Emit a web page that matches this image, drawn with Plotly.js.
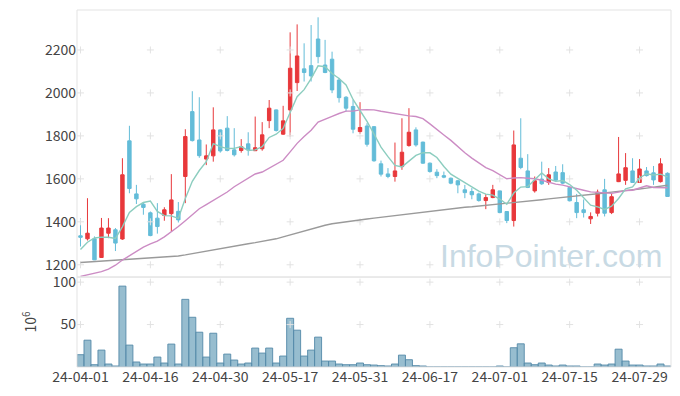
<!DOCTYPE html>
<html>
<head>
<meta charset="utf-8">
<script src="https://cdn.plot.ly/plotly-3.0.1.min.js"></script>
<style>html,body{margin:0;padding:0;background:#fff;}#chart{width:680px;height:396px;}</style>
</head>
<body>
<div id="chart"></div>
<script>
const dates = ["24-04-01","24-04-02","24-04-03","24-04-04","24-04-05","24-04-08","24-04-09","24-04-11","24-04-12","24-04-15",
"24-04-16","24-04-17","24-04-18","24-04-19","24-04-22","24-04-23","24-04-24","24-04-25","24-04-26","24-04-29",
"24-04-30","24-05-02","24-05-03","24-05-07","24-05-08","24-05-09","24-05-10","24-05-13","24-05-14","24-05-16",
"24-05-17","24-05-20","24-05-21","24-05-22","24-05-23","24-05-24","24-05-27","24-05-28","24-05-29","24-05-30",
"24-05-31","24-06-03","24-06-04","24-06-05","24-06-07","24-06-10","24-06-11","24-06-12","24-06-13","24-06-14",
"24-06-17","24-06-18","24-06-19","24-06-20","24-06-21","24-06-24","24-06-25","24-06-26","24-06-27","24-06-28",
"24-07-01","24-07-02","24-07-03","24-07-04","24-07-05","24-07-08","24-07-09","24-07-10","24-07-11","24-07-12",
"24-07-15","24-07-16","24-07-17","24-07-18","24-07-19","24-07-22","24-07-23","24-07-24","24-07-25","24-07-26",
"24-07-29","24-07-30","24-07-31","24-08-01","24-08-02"];

const open = [1335,1321,1321,1234,1347,1363,1320,1777,1530,1482,
1442,1417,1430,1438,1449,1611,1913,1781,1692,1707,
1828,1836,1735,1732,1763,1731,1740,1871,1921,1808,
1921,2048,2112,2127,2251,2130,2157,2060,1980,1937,
1820,1846,1843,1670,1623,1611,1657,1755,1828,1771,
1673,1631,1615,1603,1591,1549,1541,1530,1499,1513,
1544,1448,1406,1696,1637,1544,1599,1583,1632,1629,
1560,1490,1456,1414,1440,1549,1443,1587,1593,1637,
1583,1637,1628,1587,1626];
const high = [1417,1510,1332,1418,1417,1371,1696,1847,1572,1490,
1448,1487,1468,1622,1492,1831,2008,1980,1760,1933,
1830,1892,1836,1785,1817,1890,1864,1967,1923,1940,
2282,2319,2231,2316,2352,2247,2192,2070,1985,1967,
1957,1859,1845,1685,1650,1769,1882,1929,1840,1773,
1676,1645,1634,1606,1595,1572,1557,1536,1529,1572,
1545,1450,1825,1882,1715,1611,1680,1650,1660,1668,
1562,1530,1504,1444,1550,1600,1532,1795,1720,1696,
1692,1655,1660,1696,1630];
const low = [1285,1313,1222,1232,1324,1264,1316,1533,1483,1433,
1333,1345,1405,1355,1397,1487,1774,1698,1664,1680,
1722,1728,1704,1722,1708,1730,1731,1836,1820,1805,
1797,2009,2053,2053,2138,2092,1999,1955,1913,1812,
1809,1750,1680,1611,1603,1587,1642,1750,1750,1670,
1629,1603,1603,1575,1533,1510,1505,1494,1459,1510,
1440,1394,1378,1645,1557,1536,1572,1572,1592,1575,
1495,1417,1420,1390,1425,1425,1436,1585,1572,1581,
1581,1611,1572,1583,1518];
const close = [1328,1347,1223,1371,1371,1301,1619,1555,1507,1467,
1336,1378,1456,1502,1409,1797,1778,1708,1707,1828,
1730,1732,1712,1750,1735,1745,1805,1929,1825,1870,
2115,2172,2095,2079,2169,2095,2014,1978,1929,1831,
1839,1761,1684,1622,1611,1637,1724,1817,1758,1673,
1634,1615,1608,1580,1572,1536,1526,1499,1513,1549,
1443,1406,1758,1653,1560,1591,1577,1619,1594,1580,
1498,1443,1443,1425,1538,1440,1517,1623,1652,1583,
1646,1615,1595,1670,1518];
// volume in millions
const volume = [14.5,31.6,2.7,19.9,3.5,1.2,95.3,25.8,5.9,3.5,
3.5,11.7,4.7,27,3.5,79.7,58.6,41,11.7,39.8,
4.7,15.2,8.2,3.5,4.7,22.3,16.4,22.3,4.7,12.9,
57.4,43.4,12.9,19.9,35.2,7,7,3.5,2.7,2.7,
4.7,2.7,2.3,1.6,1.2,3.5,14,8.6,1.6,1.2,
0,0,0,0,0,0,0,0,0,0,
1.2,0,22.7,27.3,4.7,2.7,4.7,2.3,1.2,2.3,
1.2,1.2,0,0,3.5,2.3,3.5,21,7,2.3,
2.3,1.2,1.2,3.5,1.2];
const ma5Head = [1271,1305,1325,1329];
const ma20Head = [1146,1153,1160,1168,1180,1198,1222,1243,1262,1282,1297,1310,1330,1352,1378,1405,1432,1461,1480];
const ma120 = [1211,1213,1215,1217,1219,1221,1223,1225,1227,1229,
1231,1233,1235,1238,1241,1246,1252,1259,1265,1271,
1277,1282,1288,1293,1298,1303,1308,1314,1321,1330,
1339,1348,1358,1368,1377,1384,1391,1396,1400,1405,
1409,1413,1417,1421,1425,1429,1433,1437,1441,1445,
1450,1455,1459,1462,1465,1468,1470,1473,1476,1480,
1484,1487,1490,1494,1497,1500,1503,1507,1510,1513,
1517,1520,1524,1527,1531,1534,1538,1541,1545,1549,
1553,1557,1561,1566,1570];
const xTickIdx = [0,10,20,30,40,50,60,70,80];
const priceTicks = [1200,1400,1600,1800,2000,2200];
const volTicks = [50,100];

function movingAvg(arr, n, head){
  return arr.map((v,i)=>{
    if(i < n-1) return head[i];
    let s = 0; for(let k=i-n+1;k<=i;k++) s += arr[k];
    return s/n;
  });
}
const ma5 = movingAvg(close,5,ma5Head);
const ma20 = movingAvg(close,20,ma20Head);
const tickDates = xTickIdx.map(i=>dates[i]);

const cx=[],cy=[],cx2=[],cy2=[];
tickDates.forEach(d=>{ priceTicks.forEach(p=>{cx.push(d);cy.push(p);}); volTicks.forEach(v=>{cx2.push(d);cy2.push(v);}); });

const crossMarker = {symbol:'cross-thin', size:5, color:'#e2e2e2', line:{color:'#e2e2e2', width:1}};
const FONT = "'Noto Sans CJK KR', 'Noto Sans', sans-serif";

const traces = [
  {type:'scatter', mode:'markers', x:cx, y:cy, marker:crossMarker, hoverinfo:'skip', xaxis:'x', yaxis:'y'},
  {type:'scatter', mode:'markers', x:cx2, y:cy2, marker:crossMarker, hoverinfo:'skip', xaxis:'x', yaxis:'y2'},
  {type:'candlestick', x:dates, open:open, high:high, low:low, close:close, xaxis:'x', yaxis:'y',
   increasing:{line:{color:'#e8383b', width:1}, fillcolor:'#e8383b'},
   decreasing:{line:{color:'#63bcd8', width:1}, fillcolor:'#63bcd8'},
   whiskerwidth:0, hoverinfo:'skip'},
  {type:'scatter', mode:'lines', x:dates, y:ma120, line:{color:'#9a9a9a', width:1.4}, xaxis:'x', yaxis:'y', hoverinfo:'skip'},
  {type:'scatter', mode:'lines', x:dates, y:ma20, line:{color:'#cc8cc4', width:1.4}, xaxis:'x', yaxis:'y', hoverinfo:'skip'},
  {type:'scatter', mode:'lines', x:dates, y:ma5, line:{color:'#8ccdbf', width:1.4}, xaxis:'x', yaxis:'y', hoverinfo:'skip'},
  {type:'bar', x:dates, y:volume, xaxis:'x', yaxis:'y2',
   marker:{color:'rgba(122,170,194,0.78)', line:{color:'rgba(84,138,168,0.9)', width:1}}, hoverinfo:'skip'}
];

const layout = {
  width:680, height:396,
  margin:{l:77, r:9, t:10, b:29},
  paper_bgcolor:'#ffffff', plot_bgcolor:'#ffffff',
  showlegend:false, hovermode:false, bargap:0,
  font:{family:FONT, size:14, color:'#444'},
  xaxis:{type:'category', categoryorder:'array', categoryarray:dates, range:[-0.5,84.5],
    anchor:'y2', tickmode:'array', tickvals:tickDates, ticktext:tickDates,
    showgrid:false, zeroline:false, showline:false, ticks:'', rangeslider:{visible:false},
    tickfont:{family:FONT, size:14, color:'#444'}},
  yaxis:{domain:[0.252,1], range:[1143,2386], tickvals:priceTicks, showgrid:false, zeroline:false,
    showline:false, ticks:'', tickfont:{family:FONT, size:14, color:'#444'}},
  yaxis2:{domain:[0,0.252], range:[0,106], tickvals:volTicks, showgrid:false, zeroline:false,
    showline:false, ticks:'', tickfont:{family:FONT, size:14, color:'#444'},
    title:{text:'10<sup>6</sup>', font:{family:FONT, size:14, color:'#444'}, standoff:12}},
  shapes:[
    {type:'rect', xref:'paper', yref:'paper', x0:0, x1:1, y0:0.252, y1:1, line:{color:'#e3e3e3', width:1}},
    {type:'rect', xref:'paper', yref:'paper', x0:0, x1:1, y0:0, y1:0.252, line:{color:'#e3e3e3', width:1}}
  ],
  annotations:[
    {text:'InfoPointer.com', xref:'paper', yref:'paper', x:0.988, y:0.31, xanchor:'right', yanchor:'middle',
     showarrow:false, font:{family:"'Liberation Sans', Arial, sans-serif", size:32, color:'#c8dae4'}}
  ]
};

Plotly.newPlot('chart', traces, layout, {staticPlot:true, displayModeBar:false});
</script>
</body>
</html>
